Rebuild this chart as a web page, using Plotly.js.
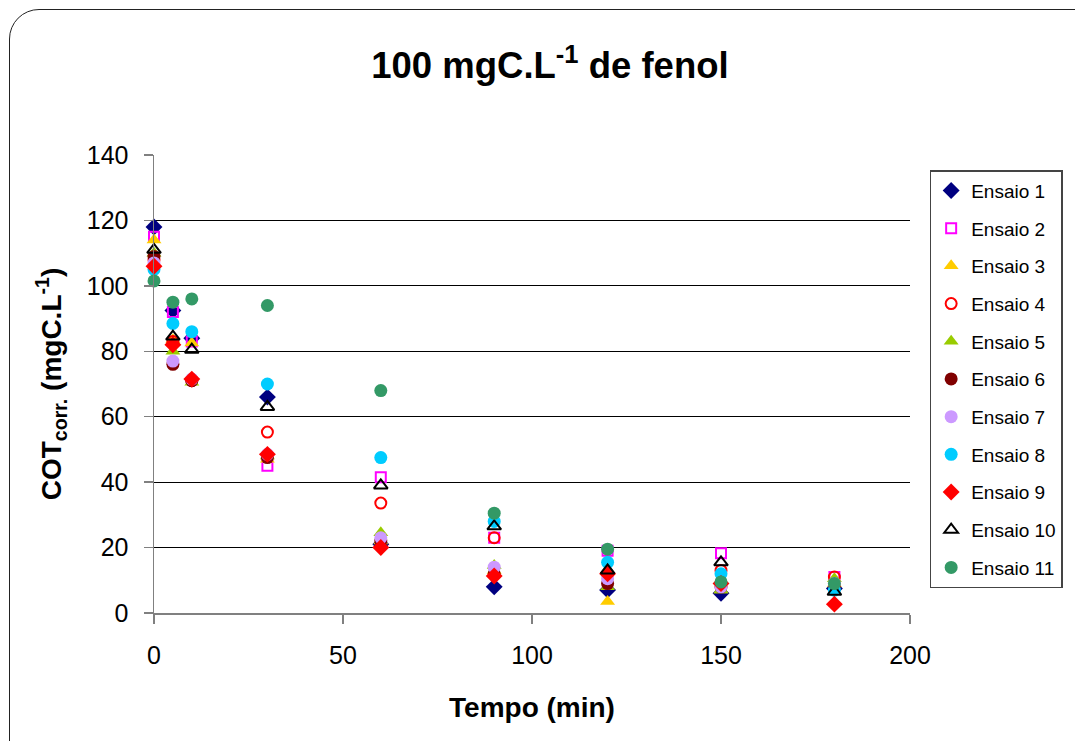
<!DOCTYPE html>
<html>
<head>
<meta charset="utf-8">
<script src="https://cdn.plot.ly/plotly-3.0.1.min.js"></script>
<style>
  html, body { margin: 0; padding: 0; background: #fff; width: 1075px; height: 741px; overflow: hidden; }
  #frame { position: absolute; left: 9px; top: 9px; width: 1200px; height: 900px;
           border: 1.5px solid #222; border-radius: 30px; box-sizing: border-box; z-index: 0; }
  #chart { position: absolute; left: 0; top: 0; width: 1075px; height: 741px; z-index: 1; }
</style>
</head>
<body>
<div id="frame"></div>
<div id="chart"></div>
<script>
// Sampling times (min)
const tempo = [0, 5, 10, 30, 60, 90, 120, 150, 180];

// Corrected TOC (mgC/L) for each run
const ensaio1  = [118, 92.5, 84, 66, 21, 8, 7, 6, 7.5];
const ensaio2  = [115, 92, 83, 45, 41.5, 23, 19, 18.3, 11];
const ensaio3  = [114, 83.5, 82.5, 47, 22, 13, 3.5, 7, 9];
const ensaio4  = [108, 83, 71, 55.3, 33.6, 23, 12, 13, 11];
const ensaio5  = [110, 80, 70.5, 48, 24.5, 14.5, 8, 7, 10.5];
const ensaio6  = [109, 76, 71, 47.5, 22, 12, 9, 8, 8];
const ensaio7  = [107, 77, 71.5, 48.5, 23, 14, 10.5, 8, 9];
const ensaio8  = [105, 88.5, 86, 70, 47.5, 28, 15.5, 12, 7];
const ensaio9  = [106, 82, 71.5, 48.5, 20, 11.3, 12, 9, 2.7];
const ensaio10 = [111, 84.5, 80.5, 63, 39, 26.5, 13, 15.5, 6.5];
const ensaio11 = [101.5, 95, 96, 94, 68, 30.5, 19.5, 9.5, 9];

const nomes = ["Ensaio 1","Ensaio 2","Ensaio 3","Ensaio 4","Ensaio 5","Ensaio 6",
               "Ensaio 7","Ensaio 8","Ensaio 9","Ensaio 10","Ensaio 11"];
const series = [ensaio1, ensaio2, ensaio3, ensaio4, ensaio5, ensaio6,
                ensaio7, ensaio8, ensaio9, ensaio10, ensaio11];

// marker style per run
const estilos = [
  {symbol: "diamond",           color: "#000080", size: 13},
  {symbol: "square-open",       color: "#FF00FF", size: 10, line: 2},
  {symbol: "triangle-up",       color: "#FFCC00", size: 13},
  {symbol: "circle-open",       color: "#FF0000", size: 11, line: 2},
  {symbol: "triangle-up",       color: "#99CC00", size: 13},
  {symbol: "circle",            color: "#800000", size: 13},
  {symbol: "circle",            color: "#CC99FF", size: 13},
  {symbol: "circle",            color: "#00CCFF", size: 13},
  {symbol: "diamond",           color: "#FF0000", size: 13},
  {symbol: "triangle-up-open",  color: "#000000", size: 12, line: 2},
  {symbol: "circle",            color: "#339966", size: 13}
];

const traces = series.map((y, i) => {
  const e = estilos[i];
  return {
    x: tempo, y: y, name: nomes[i], type: "scatter", mode: "markers",
    legendgroup: "g" + i,
    marker: { symbol: e.symbol, color: e.color, size: e.size,
              line: { color: e.color, width: e.line || 0 } },
    cliponaxis: false
  };
});

const fonte = "Arial, 'Liberation Sans', sans-serif";

const layout = {
  width: 1075, height: 741,
  paper_bgcolor: "rgba(0,0,0,0)", plot_bgcolor: "rgba(0,0,0,0)",
  margin: { l: 154, r: 165, t: 155, b: 128 },
  font: { family: fonte, color: "#000" },
  title: { text: "<b>100 mgC.L<sup>-1</sup> de fenol</b>", x: 0.5116, xref: "container", xanchor: "center",
           y: 0.912, yref: "container", yanchor: "middle",
           font: { size: 36.5, family: fonte, color: "#000" } },
  xaxis: {
    range: [0, 200], tickvals: [0, 50, 100, 150, 200], ticktext: ["0","50","100","150","200"],
    showgrid: false, zeroline: false, showline: true, linecolor: "#808080", linewidth: 1.5,
    ticks: "outside", ticklen: 9, tickcolor: "#808080", tickwidth: 1.5,
    ticklabelstandoff: 10,
    tickfont: { size: 25, family: fonte }, automargin: false,
    title: { text: "<b>Tempo (min)</b>", font: { size: 28, family: fonte }, standoff: 30 }
  },
  yaxis: {
    range: [0, 140], tickvals: [0, 20, 40, 60, 80, 100, 120, 140],
    showgrid: true, gridcolor: "#000", gridwidth: 1, zeroline: false,
    showline: true, linecolor: "#808080", linewidth: 1.5,
    ticks: "outside", ticklen: 9, tickcolor: "#808080", tickwidth: 1.5,
    ticklabelstandoff: 10,
    tickfont: { size: 25, family: fonte }, automargin: false,
    title: { text: "<b>COT<sub>corr.</sub> (mgC.L<sup>-1</sup>)</b>", font: { size: 28, family: fonte }, standoff: 17 }
  },
  legend: {
    x: 1.026, y: 0.967, xanchor: "left", yanchor: "top",
    bgcolor: "#fff", bordercolor: "#444", borderwidth: 1.5,
    font: { size: 19, family: fonte, color: "#000" },
    traceorder: "grouped", tracegroupgap: 10, itemwidth: 20
  },
  showlegend: true
};

Plotly.newPlot("chart", traces, layout, { displayModeBar: false, staticPlot: true });
</script>
</body>
</html>
